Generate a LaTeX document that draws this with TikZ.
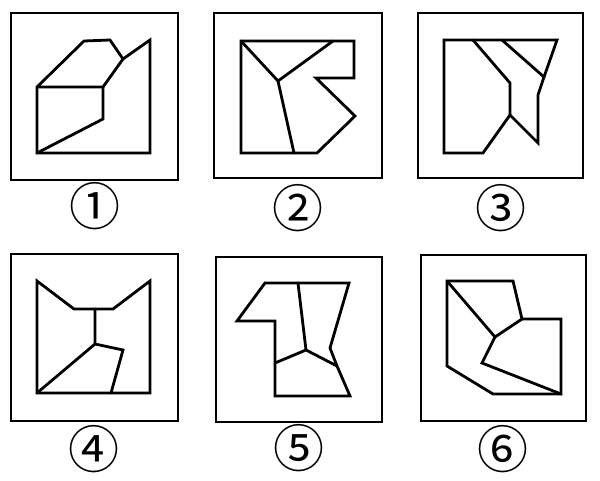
\documentclass[tikz,border=0pt]{standalone}
\usepackage{fontspec}
\newfontfamily\circfont{Noto Sans CJK SC}
\usepackage{tikz}

\begin{document}
\begin{tikzpicture}[
			x=1pt, y=-1pt,
			frame/.style={draw, line width=2pt},
			fig/.style={draw, line width=2.8pt, line join=miter, line cap=round},
			num/.style={inner sep=0pt, font=\circfont\fontsize{51}{51}\selectfont}
			]
			\useasboundingbox (0,0) rectangle (600,481);
			% frames
			\draw[frame] (11,13) rectangle (178,180);
			\draw[frame] (214,13) rectangle (382,178);
			\draw[frame] (418,13) rectangle (583,178);
			\draw[frame] (11,254) rectangle (178,421);
			\draw[frame] (216,257) rectangle (382,422);
			\draw[frame] (421,255) rectangle (586,421);
			% figure 1
			\draw[fig] (37,153) -- (37,87) -- (84,41) -- (110,40) -- (123,59) -- (150,40) -- (150,153) -- cycle;
			\draw[fig] (37,87) -- (103,87) -- (103,119) -- (37,153);
			\draw[fig] (123,59) -- (103,87);
			% figure 2
			\draw[fig] (241,41) -- (354,41) -- (354,78) -- (316,78) -- (355,116) -- (317,153) -- (241,153) -- cycle;
			\draw[fig] (241,41) -- (278,81) -- (333,41);
			\draw[fig] (278,81) -- (294,153);
			% figure 3
			\draw[fig] (444,40) -- (557,40) -- (544,77) -- (538,95) -- (538,143) -- (510,115) -- (483,153) -- (444,153) -- cycle;
			\draw[fig] (473,40) -- (510,83) -- (510,115);
			\draw[fig] (502,40) -- (544,77);
			% figure 4
			\draw[fig] (37,281) -- (74,309) -- (113,309) -- (150,281) -- (150,393) -- (37,393) -- cycle;
			\draw[fig] (95,309) -- (95,344) -- (37,393);
			\draw[fig] (95,344) -- (123,350) -- (111,393);
			% figure 5
			\draw[fig] (265,283) -- (349,283) -- (330,348) -- (337,366) -- (350,396) -- (275,396) -- (275,321) -- (237,321) -- cycle;
			\draw[fig] (298,283) -- (306,350) -- (275,363);
			\draw[fig] (306,350) -- (337,366);
			% figure 6
			\draw[fig] (447,281) -- (513,281) -- (522,319) -- (561,319) -- (561,394) -- (493,394) -- (447,366) -- cycle;
			\draw[fig] (447,281) -- (495,337) -- (522,319);
			\draw[fig] (495,337) -- (482,363) -- (561,394);
			% labels
			\node[num] (n1) at (95,206) {①};
			\node[num] (n2) at (298,208) {②};
			\node[num] (n3) at (501,208) {③};
			\node[num] (n4) at (94,449) {④};
			\node[num] (n5) at (299,448) {⑤};
			\node[num] (n6) at (503,449) {⑥};
		\end{tikzpicture}
\end{document}
